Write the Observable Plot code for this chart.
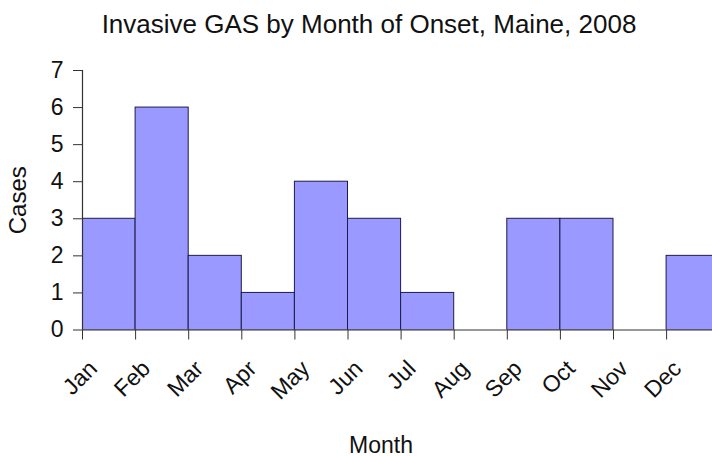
<!DOCTYPE html>
<html>
<head>
<meta charset="utf-8">
<script src="https://cdn.jsdelivr.net/npm/d3@7"></script>
<script src="https://cdn.jsdelivr.net/npm/@observablehq/plot@0.6"></script>
<style>
  html, body { margin: 0; padding: 0; background: #fff; overflow: hidden; }
  #title {
    width: 712px; height: 45px; box-sizing: border-box;
    padding-top: 11px; padding-left: 26px;
    font-family: "Liberation Sans", Arial, sans-serif;
    font-size: 26px; line-height: 26px; text-align: center; color: #111;
  }
  #chart svg { display: block; }
</style>
</head>
<body>
<div id="title">Invasive GAS by Month of Onset, Maine, 2008</div>
<div id="chart"></div>
<script>
const months = ["Jan", "Feb", "Mar", "Apr", "May", "Jun", "Jul", "Aug", "Sep", "Oct", "Nov", "Dec"];
const cases = [3, 6, 2, 1, 4, 3, 1, 0, 3, 3, 0, 2];
const yTicks = [0, 1, 2, 3, 4, 5, 6, 7];
const xTitle = "Month";
const yTitle = "Cases";

const data = months.map((m, i) => ({month: m, start: i, end: i + 1, cases: cases[i]}));
const edges = months.map((m, i) => i);

const font = "'Liberation Sans', Arial, sans-serif";
const axisColor = "#333";

const chart = Plot.plot({
  width: 712,
  height: 411,
  marginLeft: 82,
  marginRight: 0,
  marginTop: 25,
  marginBottom: 126.5,
  style: {fontFamily: font, color: "#111", background: "#fff"},
  x: {type: "linear", domain: [0, 630 / 53.1]},
  y: {domain: [0, 7]},
  marks: [
    Plot.rectY(data, {x1: "start", x2: "end", y: "cases", fill: "#9999ff", stroke: "#1c1c48", strokeWidth: 1, clip: true}),
    Plot.ruleY([0], {stroke: axisColor, strokeWidth: 1.2}),
    Plot.ruleX([0], {y1: 0, y2: 7, stroke: axisColor, strokeWidth: 1.2}),
    Plot.axisY({ticks: yTicks, tickSize: 9, tickPadding: 10, fontSize: 23, stroke: axisColor, label: null, tickFormat: d => String(d)}),
    Plot.axisX({ticks: edges, tickSize: 10, tickFormat: () => "", label: null, stroke: axisColor}),
    Plot.text(data, {x: "start", frameAnchor: "bottom", text: "month", rotate: -45, textAnchor: "end", lineAnchor: "bottom", dx: 16, dy: 40, fontSize: 23, fill: "#111"}),
    Plot.text([xTitle], {frameAnchor: "bottom", text: d => d, lineAnchor: "bottom", dx: -16.5, dy: 122.5, fontSize: 23, fill: "#111"}),
    Plot.text([yTitle], {frameAnchor: "left", text: d => d, rotate: -90, textAnchor: "middle", lineAnchor: "bottom", dx: -57, dy: 0, fontSize: 24, fill: "#111"})
  ]
});
document.getElementById("chart").appendChild(chart);
</script>
</body>
</html>
